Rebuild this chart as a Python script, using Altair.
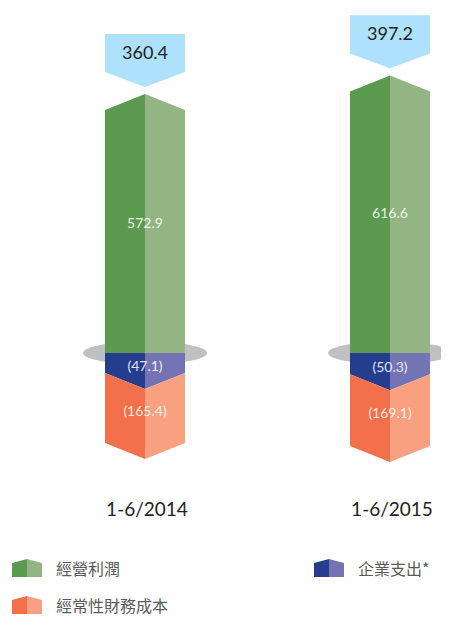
import altair as alt
import pandas as pd

# ---------------- data ----------------
categories = ["1-6/2014", "1-6/2015"]
operating_profit = [572.9, 616.6]
corporate_expenses = [47.1, 50.3]
finance_costs = [165.4, 169.1]
net_result = [360.4, 397.2]

legend_labels = ["經營利潤", "企業支出*", "經常性財務成本"]

# ---------------- geometry / style ----------------
W, H = 433, 608
ZERO_PX = 345          # pixel row of the zero line inside the plot
K = 0.424              # pixels per unit
CENTER0_PX = 137       # pixel column of first category
SPACING_PX = 245       # pixels between categories
HALF_W = 40 / SPACING_PX
PEAK = 16 / K
GAP = 17
POINT = 35
BOX = 90

keys = ["profit_d", "profit_l", "corp_d", "corp_l", "fin_d", "fin_l", "call"]
cols = ["#5b9a4f", "#93b483", "#253d8e", "#7474b4", "#f3704a", "#f8a07f", "#aee1fb"]
colmap = dict(zip(keys, cols))

xscale = alt.Scale(domain=[-CENTER0_PX / SPACING_PX, (W - CENTER0_PX) / SPACING_PX], nice=False, zero=False)
yscale = alt.Scale(domain=[-(H - ZERO_PX) / K, ZERO_PX / K], nice=False, zero=False)

rows = []
for i, cat in enumerate(categories):
    v = operating_profit[i]
    b = corporate_expenses[i]
    f = finance_costs[i]
    base = v + PEAK + GAP
    for side, sgn in (("d", -1), ("l", 1)):
        xo = i + sgn * HALF_W
        xc = i
        parts = [
            ("profit_" + side, (0, v), (0, v + PEAK)),
            ("corp_" + side, (-b, 0), (-b - PEAK, 0)),
            ("fin_" + side, (-b - f, -b), (-b - f - PEAK, -b - PEAK)),
            ("call", (base + POINT, base + POINT + BOX), (base, base + POINT + BOX)),
        ]
        for key, (olo, ohi), (clo, chi) in parts:
            pid = f"{i}_{key}_{side}"
            rows.append(dict(pid=pid, key=key, x=xo, y=olo, y2=ohi))
            rows.append(dict(pid=pid, key=key, x=xc, y=clo, y2=chi))
poly = pd.DataFrame(rows)

areas = alt.Chart(poly).mark_area(interpolate="linear", strokeWidth=0).encode(
    x=alt.X("x:Q", scale=xscale, axis=None),
    y=alt.Y("y:Q", scale=yscale, axis=None, stack=None),
    y2="y2:Q",
    detail="pid:N",
    color=alt.Color("key:N", scale=alt.Scale(domain=keys, range=cols), legend=None),
)

cat_df = pd.DataFrame({
    "i": list(range(len(categories))),
    "cat": categories,
    "zero": [0] * len(categories),
})

ELLIPSE = "M-1,0A1,0.185,0,1,1,1,0A1,0.185,0,1,1,-1,0Z"
ellipse = alt.Chart(cat_df).mark_point(
    shape=ELLIPSE, size=124 ** 2, filled=True, color="#bec0c4", opacity=1, strokeWidth=0
).encode(
    x=alt.X("i:Q", scale=xscale, axis=None),
    y=alt.Y("zero:Q", scale=yscale, axis=None),
)

lab_rows = []
for i in range(len(categories)):
    v = operating_profit[i]
    b = corporate_expenses[i]
    f = finance_costs[i]
    base = v + PEAK + GAP
    lab_rows.append(dict(i=i, kind="net", y=base + POINT + BOX / 2, t=f"{net_result[i]:.1f}"))
    lab_rows.append(dict(i=i, kind="in", y=(v + PEAK) / 2, t=f"{v:.1f}"))
    lab_rows.append(dict(i=i, kind="in", y=-b / 2 - PEAK / 4, t=f"({b:.1f})"))
    lab_rows.append(dict(i=i, kind="in", y=-b - f / 2 - PEAK / 4, t=f"({f:.1f})"))
labs = pd.DataFrame(lab_rows)

net_text = alt.Chart(labs).transform_filter(alt.datum.kind == "net").mark_text(
    font="Lato", fontSize=18, color="#222222", baseline="middle", align="center", dy=1
).encode(
    x=alt.X("i:Q", scale=xscale, axis=None),
    y=alt.Y("y:Q", scale=yscale, axis=None),
    text="t:N",
)

in_text = alt.Chart(labs).transform_filter(alt.datum.kind == "in").mark_text(
    font="Lato", fontSize=14, fontWeight="normal", color="#ffffff", opacity=0.85,
    baseline="middle", align="center"
).encode(
    x=alt.X("i:Q", scale=xscale, axis=None),
    y=alt.Y("y:Q", scale=yscale, axis=None),
    text="t:N",
)

cat_text = alt.Chart(cat_df).mark_text(
    font="Lato", fontSize=19, color="#222222", baseline="middle", align="center", dx=2
).encode(
    x=alt.X("i:Q", scale=xscale, axis=None),
    y=alt.value(502),
    text="cat:N",
)

# ---------------- legend (drawn as marks) ----------------
LEFT_HALF = "M-1,0.6L-1,-0.33L0,-0.6L0,0.6Z"
RIGHT_HALF = "M0,0.6L0,-0.6L1,-0.33L1,0.6Z"
legend_pos = [(19, 560), (321, 560), (19, 597)]
legend_keys = [("profit_d", "profit_l"), ("corp_d", "corp_l"), ("fin_d", "fin_l")]

legend_layers = []
one = pd.DataFrame({"a": [0]})
for (lx, ly), (kd, kl), lab in zip(legend_pos, legend_keys, legend_labels):
    for shp, k in ((LEFT_HALF, kd), (RIGHT_HALF, kl)):
        legend_layers.append(
            alt.Chart(one).mark_point(shape=shp, size=900, filled=True, opacity=1,
                                      strokeWidth=0, color=colmap[k]).encode(
                x=alt.value(lx), y=alt.value(ly)
            )
        )
    legend_layers.append(
        alt.Chart(pd.DataFrame({"t": [lab]})).mark_text(
            font="Noto Sans CJK TC", fontSize=16, color="#5a5a5a",
            align="left", baseline="middle"
        ).encode(x=alt.value(lx + 29), y=alt.value(ly + 2), text="t:N")
    )

chart = alt.layer(ellipse, areas, net_text, in_text, cat_text, *legend_layers).properties(
    width=W, height=H, padding=0, autosize=alt.AutoSizeParams(type="none")
).configure_view(stroke=None)

chart.save("out.html", embed_options={"renderer": "svg", "actions": False})
